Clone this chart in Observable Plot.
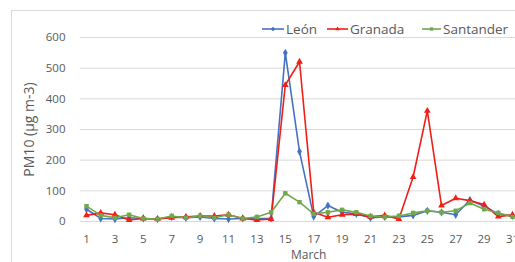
<!DOCTYPE html>
<html><head><meta charset="utf-8">
<script src="https://cdn.jsdelivr.net/npm/d3@7"></script>
<script src="https://cdn.jsdelivr.net/npm/@observablehq/plot@0.6"></script>
<style>
body{margin:0;background:#fff;font-family:"Open Sans",sans-serif;}
#wrap{position:relative;width:515px;height:262px;overflow:hidden;}
#frame{position:absolute;left:11px;top:10px;width:530px;height:260px;border:1px solid #d9d9d9;box-sizing:border-box;}
#legend{position:absolute;top:20px;left:0;width:600px;height:20px;font-size:13.5px;color:#595959;white-space:nowrap;}
#legend .it{position:absolute;top:0;display:flex;align-items:center;}
#legend svg{margin-right:2px;}
#march{position:absolute;left:291px;top:246px;font-size:12px;color:#595959;}
#chart{position:absolute;left:0;top:0;}
</style></head>
<body><div id="wrap"><div id="frame"></div><div id="chart"></div><div id="legend"></div><div id="march">March</div></div>
<script>
const days = d3.range(1, 32);
const leon = [40,10,8,12,10,8,15,12,15,10,8,10,10,10,550,228,16,52,30,25,12,15,15,20,35,30,22,70,50,25,18];
const granada = [20,28,22,5,10,8,12,15,18,18,22,10,5,8,445,521,30,14,22,24,15,20,8,145,361,52,76,68,55,16,22];
const santander = [50,20,12,22,10,8,18,12,18,12,22,10,15,30,92,63,25,30,38,30,18,15,18,28,35,30,35,60,40,28,15];
const seriesNames = ["León", "Granada", "Santander"];
const colors = ["#4472c4", "#f01e16", "#70a84a"];
const symbols = ["diamond", "triangle", "square"];
const yTicks = [0,100,200,300,400,500,600];
const xTicks = [1,3,5,7,9,11,13,15,17,19,21,23,25,27,29,31];

const allSeries = [leon, granada, santander];
const data = [];
allSeries.forEach((vals, i) => vals.forEach((v, j) => data.push({day: days[j], value: v, series: seriesNames[i]})));

const chart = Plot.plot({
  width: 515, height: 262,
  marginLeft: 80, marginRight: 0, marginTop: 37, marginBottom: 41,
  style: {fontFamily: "'Open Sans', sans-serif", fontSize: "11.5px", color: "#595959", background: "transparent"},
  x: {domain: [0.577, 31.21], ticks: xTicks, tickSize: 0, tickPadding: 13, label: null},
  y: {domain: [0, 600], ticks: yTicks, tickSize: 0, tickPadding: 15, label: "PM10 (µg m-3)", labelAnchor: "center", labelOffset: 56, labelArrow: "none"},
  color: {domain: seriesNames, range: colors},
  symbol: {domain: seriesNames, range: symbols},
  marks: [
    Plot.ruleY(yTicks, {stroke: "#d9d9d9", strokeWidth: 1}),
    Plot.line(data, {x: "day", y: "value", z: "series", stroke: "series", strokeWidth: 1.6}),
    Plot.dot(data, {x: "day", y: "value", symbol: "series", fill: "series", r: 2.5})
  ]
});
chart.querySelectorAll("g[aria-label='y-axis label'] text").forEach(t => t.style.fontSize = "14px");
document.getElementById("chart").appendChild(chart);

const leg = document.getElementById("legend");
const legendWidths = [22, 21, 19];
const legendLefts = [262, 327, 422];
seriesNames.forEach((n, i) => {
  const it = document.createElement("div"); it.className = "it";
  it.style.left = legendLefts[i] + "px";
  const w = legendWidths[i];
  const sym = d3.symbol().type([d3.symbolDiamond2, d3.symbolTriangle2, d3.symbolSquare2][i]).size(14)();
  it.innerHTML = `<svg width="${w}" height="10"><line x1="0" x2="${w}" y1="5" y2="5" stroke="${colors[i]}" stroke-width="1.6"/><path transform="translate(${w/2},5)" d="${sym}" fill="${colors[i]}"/></svg><span>${n}</span>`;
  leg.appendChild(it);
});
</script></body></html>
